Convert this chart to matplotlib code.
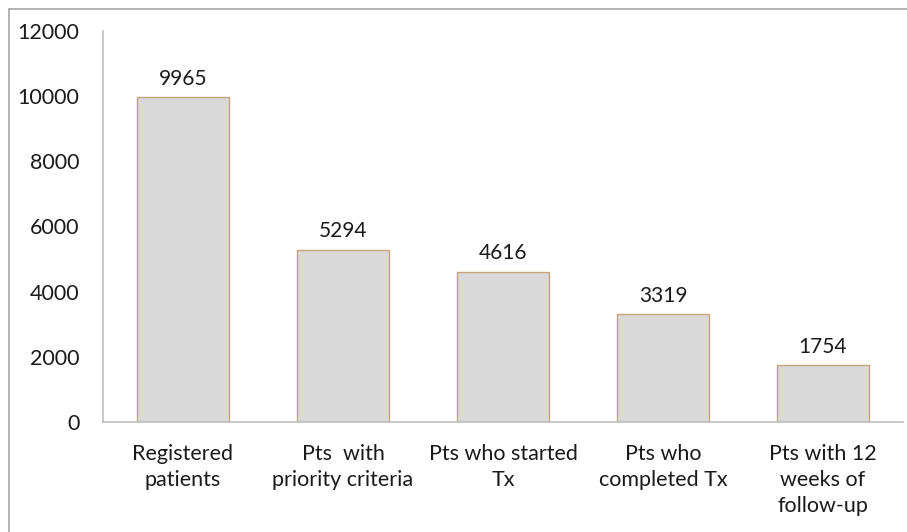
import matplotlib.pyplot as plt
from matplotlib.patches import Rectangle

plt.rcParams['font.family'] = ['Lato', 'DejaVu Sans']

categories = ["Registered\npatients", "Pts  with\npriority criteria", "Pts who started\nTx",
              "Pts who\ncompleted Tx", "Pts with 12\nweeks of\nfollow-up"]
counts = [9965, 5294, 4616, 3319, 1754]
yticks = [0, 2000, 4000, 6000, 8000, 10000, 12000]

W, H = 907, 532
fig = plt.figure(figsize=(W / 100, H / 100), dpi=100)

# outer frame of the chart area
fig.patches.append(Rectangle((9 / W, -0.05), 1.0, 1 - 9 / H + 0.05, transform=fig.transFigure,
                             fill=False, edgecolor='#a6a6a6', linewidth=1.2))

ax = fig.add_axes([103 / W, 1 - 422 / H, 800 / W, 391 / H])
x = range(len(categories))
bars = ax.bar(x, counts, width=0.575, color='#d9d9d9', edgecolor='#c4a478', linewidth=1.0, zorder=2)

for b, v in zip(bars, counts):
    ax.text(b.get_x() + b.get_width() / 2, v + 250, str(v), ha='center', va='bottom',
            fontsize=15, color='#1a1a1a')

ax.set_xlim(-0.5, len(categories) - 0.5)
ax.set_ylim(0, 12000)
ax.set_yticks(yticks)
ax.set_yticklabels([str(t) for t in yticks], fontsize=15.5, color='#1a1a1a')
ax.set_xticks(list(x))
ax.set_xticklabels(categories, fontsize=15.5, color='#1a1a1a', linespacing=1.38)

for s in ['top', 'right']:
    ax.spines[s].set_visible(False)
ax.spines['left'].set_color('#bfbfbf')
ax.spines['bottom'].set_color('#bfbfbf')
ax.spines['left'].set_linewidth(1.2)
ax.spines['bottom'].set_linewidth(1.2)
ax.tick_params(axis='both', length=0)
ax.tick_params(axis='y', pad=17)
ax.tick_params(axis='x', pad=16)

fig.savefig('out.png', dpi=100, facecolor='white')
